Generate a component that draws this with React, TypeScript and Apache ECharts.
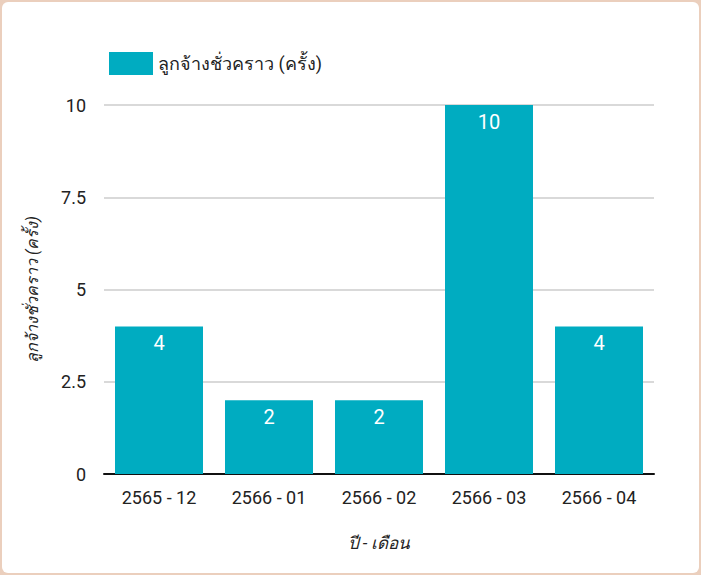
import React, { useEffect, useRef } from "react";
import * as echarts from "echarts";

const categories = ["2565 - 12", "2566 - 01", "2566 - 02", "2566 - 03", "2566 - 04"];
const values = [4, 2, 2, 10, 4];
const seriesName = "ลูกจ้างชั่วคราว (ครั้ง)";
const xName = "ปี - เดือน";
const yName = "ลูกจ้างชั่วคราว (ครั้ง)";

export default function App() {
  const ref = useRef<HTMLDivElement>(null);
  useEffect(() => {
    document.body.style.margin = "0";
    const chart = echarts.init(ref.current!, null, { renderer: "svg" });
    chart.setOption({
      animation: false,
      textStyle: { fontFamily: "Roboto, 'Noto Sans', sans-serif" },
      legend: {
        left: 104,
        top: 47,
        icon: "rect",
        itemWidth: 44,
        itemHeight: 23,
        itemGap: 10,
        textStyle: { fontSize: 18, color: "#222" },
        data: [seriesName],
      },
      grid: { left: 104, right: 47, top: 105, bottom: 101, containLabel: false },
      xAxis: {
        type: "category",
        data: categories,
        name: xName,
        nameLocation: "middle",
        nameGap: 60,
        nameTextStyle: { fontStyle: "italic", fontSize: 17, color: "#222" },
        axisLine: { lineStyle: { color: "#111", width: 2 } },
        axisTick: { show: false },
        axisLabel: { fontSize: 18, color: "#222", margin: 14 },
      },
      yAxis: {
        type: "value",
        min: 0,
        max: 10,
        interval: 2.5,
        name: yName,
        nameLocation: "middle",
        nameGap: 64,
        nameTextStyle: { fontStyle: "italic", fontSize: 16, color: "#222" },
        axisLabel: { fontSize: 18, color: "#222", margin: 18 },
        splitLine: { lineStyle: { color: "#cccccc", width: 1.5 } },
        axisLine: { show: false },
        axisTick: { show: false },
      },
      series: [
        {
          name: seriesName,
          type: "bar",
          data: values,
          barWidth: "80%",
          itemStyle: { color: "#00ACC1" },
          label: {
            show: true,
            position: "insideTop",
            distance: 7,
            color: "#fff",
            fontSize: 20,
          },
        },
      ],
    });
    return () => chart.dispose();
  }, []);
  return (
    <div style={{ position: "relative", width: 701, height: 575, background: "#EBCFBD" }}>
      <div
        style={{
          position: "absolute",
          left: 2,
          top: 2,
          width: 697,
          height: 571,
          background: "#fff",
          borderRadius: 6,
        }}
      />
      <div ref={ref} style={{ position: "absolute", left: 0, top: 0, width: 701, height: 575 }} />
    </div>
  );
}
